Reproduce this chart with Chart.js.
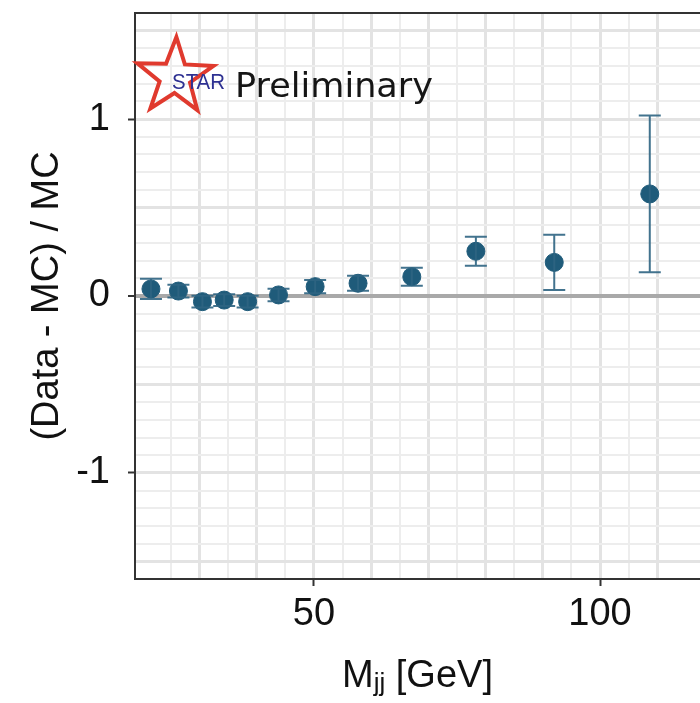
<!DOCTYPE html>
<html>
<head>
<meta charset="utf-8">
<title>(Data - MC) / MC vs Mjj</title>
<script src="https://cdn.jsdelivr.net/npm/chart.js@4.4.1/dist/chart.umd.min.js"></script>
<style>
html, body { margin: 0; padding: 0; background: #fff; }
#wrap { width: 700px; height: 703px; }
</style>
</head>
<body>
<div id="wrap"><canvas id="canvas-1" width="700" height="703"></canvas></div>
<script>
// dijet mass bins [GeV]
var mjj = [21.5, 26.3, 30.5, 34.3, 38.4, 43.8, 50.2, 57.7, 67.1, 78.3, 92.0, 108.7];
// (Data - MC) / MC
var ratio = [0.040, 0.028, -0.032, -0.023, -0.032, 0.006, 0.053, 0.072, 0.109, 0.253, 0.190, 0.577];
var ratioErr = [0.057, 0.036, 0.033, 0.033, 0.033, 0.035, 0.037, 0.043, 0.051, 0.082, 0.156, 0.443];

var xTickLabels = [50, 100];
var yTickLabels = [-1, 0, 1];

var pointColor = '#1f5b7a';
var fontFamily = '"Liberation Sans", Arial, Helvetica, sans-serif';

function isMult(v, step) {
    var q = v / step;
    return Math.abs(q - Math.round(q)) < 1e-6;
}
function hasLabel(list, v) {
    for (var i = 0; i < list.length; i++) {
        if (Math.abs(list[i] - v) < 1e-6) return true;
    }
    return false;
}

var points = mjj.map(function (m, i) { return {x: m, y: ratio[i]}; });

// vertical error bars with caps
var errorBars = {
    id: 'errorBars',
    afterDatasetsDraw: function (chart) {
        var xs = chart.scales.x, ys = chart.scales.y, ctx = chart.ctx;
        ctx.save();
        ctx.strokeStyle = 'rgba(45,100,130,0.9)';
        ctx.lineWidth = 2;
        for (var i = 0; i < mjj.length; i++) {
            var px = xs.getPixelForValue(mjj[i]);
            var top = ys.getPixelForValue(ratio[i] + ratioErr[i]);
            var bot = ys.getPixelForValue(ratio[i] - ratioErr[i]);
            ctx.beginPath();
            ctx.moveTo(px, top); ctx.lineTo(px, bot);
            ctx.moveTo(px - 11, top); ctx.lineTo(px + 11, top);
            ctx.moveTo(px - 11, bot); ctx.lineTo(px + 11, bot);
            ctx.stroke();
        }
        ctx.restore();
    }
};

// top frame line, x title with subscript, STAR logo
var decorations = {
    id: 'decorations',
    afterDraw: function (chart) {
        var ctx = chart.ctx, a = chart.chartArea;
        ctx.save();
        ctx.strokeStyle = '#333';
        ctx.lineWidth = 2;
        ctx.beginPath();
        ctx.moveTo(a.left - 1, a.top);
        ctx.lineTo(a.right, a.top);
        ctx.stroke();

        // x axis title: M_jj [GeV]
        ctx.fillStyle = '#111';
        ctx.textBaseline = 'alphabetic';
        ctx.textAlign = 'left';
        var big = '38px ' + fontFamily, small = '26px ' + fontFamily;
        ctx.font = big;
        var wM = ctx.measureText('M').width;
        var wRest = ctx.measureText(' [GeV]').width;
        ctx.font = small;
        var wSub = ctx.measureText('jj').width;
        var total = wM + wSub + wRest;
        var x0 = (a.left + a.right) / 2 - total / 2;
        var base = 687;
        ctx.font = big;
        ctx.fillText('M', x0, base);
        ctx.font = small;
        ctx.fillText('jj', x0 + wM, base + 4);
        ctx.font = big;
        ctx.fillText(' [GeV]', x0 + wM + wSub, base);

        // STAR star
        var cx = 175, cy = 77, R = 40, r = 16, rot = -88 * Math.PI / 180;
        ctx.beginPath();
        for (var k = 0; k < 10; k++) {
            var rad = k % 2 === 0 ? R : r;
            var ang = rot + k * Math.PI / 5;
            var px = cx + rad * Math.cos(ang), py = cy + rad * Math.sin(ang);
            if (k === 0) ctx.moveTo(px, py); else ctx.lineTo(px, py);
        }
        ctx.closePath();
        ctx.strokeStyle = '#e03a2e';
        ctx.lineWidth = 4;
        ctx.lineJoin = 'miter';
        ctx.stroke();

        ctx.fillStyle = '#2e3192';
        ctx.font = '22px ' + fontFamily;
        var ws = ctx.measureText('STAR').width;
        ctx.save();
        ctx.translate(172, 89);
        ctx.scale(53 / ws, 1);
        ctx.fillText('STAR', 0, 0);
        ctx.restore();

        ctx.fillStyle = '#151515';
        ctx.font = '33px "DejaVu Sans", "Open Sans", sans-serif';
        var wp = ctx.measureText('Preliminary').width;
        ctx.translate(235, 97);
        ctx.scale(198 / wp, 1);
        ctx.fillText('Preliminary', 0, 0);
        ctx.restore();
    }
};

var ctx = document.getElementById('canvas-1');
var chart = new Chart(ctx, {
    type: 'scatter',
    data: {
        datasets: [{
            data: points,
            backgroundColor: pointColor,
            borderColor: pointColor,
            borderWidth: 1,
            pointRadius: 9,
            pointHoverRadius: 9
        }]
    },
    options: {
        responsive: false,
        animation: false,
        devicePixelRatio: 1,
        layout: { autoPadding: false, padding: { top: 13, right: 0, bottom: 0, left: 0 } },
        plugins: {
            legend: { display: false },
            tooltip: { enabled: false }
        },
        scales: {
            x: {
                type: 'linear',
                position: 'bottom',
                min: 18.71,
                max: 117.48,
                afterFit: function (scale) {
                    scale.height = 124;
                    scale.paddingLeft = 0;
                    scale.paddingRight = 0;
                },
                afterBuildTicks: function (scale) {
                    scale.ticks = scale.ticks.filter(function (t) { return isMult(t.value, 5); });
                },
                ticks: {
                    stepSize: 5,
                    autoSkip: false,
                    maxRotation: 0,
                    padding: 6,
                    color: '#111',
                    font: { family: fontFamily, size: 38 },
                    callback: function (v) { return hasLabel(xTickLabels, v) ? String(Math.round(v)) : ''; }
                },
                grid: {
                    z: -2,
                    color: function (c) { return isMult(c.tick.value, 10) ? '#e3e3e3' : '#ededed'; },
                    lineWidth: function (c) { return isMult(c.tick.value, 10) ? 3 : 2; },
                    drawTicks: true,
                    tickLength: 7,
                    tickWidth: 2,
                    tickColor: function (c) { return hasLabel(xTickLabels, c.tick.value) ? '#333' : 'rgba(0,0,0,0)'; }
                },
                border: { display: true, color: '#333', width: 2 }
            },
            y: {
                type: 'linear',
                position: 'left',
                min: -1.6,
                max: 1.6,
                afterFit: function (scale) {
                    scale.width = 135;
                    scale.paddingTop = 0;
                    scale.paddingBottom = 0;
                },
                ticks: {
                    stepSize: 0.1,
                    autoSkip: false,
                    padding: 18,
                    color: '#111',
                    font: { family: fontFamily, size: 38 },
                    callback: function (v) { return hasLabel(yTickLabels, v) ? String(Math.round(v)) : ''; }
                },
                grid: {
                    z: -1,
                    color: function (c) {
                        var v = c.tick.value;
                        if (Math.abs(v) < 1e-6) return '#a9a9a9';
                        return isMult(v, 0.5) ? '#e3e3e3' : '#ededed';
                    },
                    lineWidth: function (c) {
                        var v = c.tick.value;
                        if (Math.abs(v) < 1e-6) return 4;
                        return isMult(v, 0.5) ? 3 : 2;
                    },
                    drawTicks: true,
                    tickLength: 7,
                    tickWidth: 2,
                    tickColor: function (c) { return hasLabel(yTickLabels, c.tick.value) ? '#333' : 'rgba(0,0,0,0)'; }
                },
                border: { display: true, color: '#333', width: 2 },
                title: {
                    display: true,
                    text: '(Data - MC) / MC',
                    color: '#111',
                    font: { family: fontFamily, size: 38 },
                    padding: { top: 25, bottom: 0 }
                }
            }
        }
    },
    plugins: [errorBars, decorations]
});
</script>
</body>
</html>
